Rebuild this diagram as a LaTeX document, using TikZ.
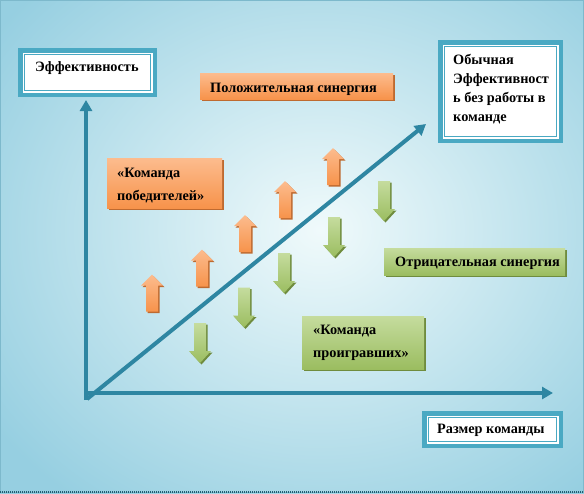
\documentclass[tikz,border=0pt]{standalone}
\usepackage{fontspec}
\setmainfont{Liberation Serif}
\usetikzlibrary{arrows.meta,shadows}
\definecolor{axis}{HTML}{2E86A2}
\definecolor{boxteal}{HTML}{4AA9C3}
\definecolor{bgin}{HTML}{F0FAFB}
\definecolor{bgout}{HTML}{96CFE1}
\definecolor{frame}{HTML}{7DB9CC}
\definecolor{ortop}{HTML}{FCBC8E}
\definecolor{orbot}{HTML}{F7934B}
\definecolor{orshadow}{HTML}{BE6A30}
\definecolor{grtop}{HTML}{C5DC9E}
\definecolor{grbot}{HTML}{9BBD60}
\definecolor{grshadow}{HTML}{6F8C3E}
\tikzset{
  uparr/.pic={
    \fill[orshadow] (-4.5,20) -- (-4.5,-6) -- (-9.5,-6) -- (1.5,-17) -- (12.5,-6) -- (7.5,-6) -- (7.5,20) -- cycle;
    \path[top color=ortop, bottom color=orbot] (-6,18.5) -- (-6,-7.5) -- (-11,-7.5) -- (0,-18.5) -- (11,-7.5) -- (6,-7.5) -- (6,18.5) -- cycle;
  },
  downarr/.pic={
    \fill[grshadow] (-4.5,-18.5) -- (-4.5,9.5) -- (-9.5,9.5) -- (1.5,21.5) -- (12.5,9.5) -- (7.5,9.5) -- (7.5,-18.5) -- cycle;
    \path[top color=grtop, bottom color=grbot] (-6,-20) -- (-6,8) -- (-11,8) -- (0,20) -- (11,8) -- (6,8) -- (6,-20) -- cycle;
  }
}
\begin{document}
\begin{tikzpicture}[x=1pt,y=-1pt,
  txt/.style={font=\fontsize{14.3}{16}\selectfont\bfseries, inner sep=0pt, anchor=base west},
  whitebox/.style={draw=boxteal, line width=4.5pt, fill=white, inner sep=0pt, outer sep=0pt},
  innerline/.style={draw=boxteal, line width=0.9pt},
  orbox/.style={top color=ortop, bottom color=orbot, inner sep=0pt, outer sep=0pt,
    drop shadow={shadow xshift=2pt, shadow yshift=-2pt, fill=orshadow, opacity=1}},
  grbox/.style={top color=grtop, bottom color=grbot, inner sep=0pt, outer sep=0pt,
    drop shadow={shadow xshift=2pt, shadow yshift=-2pt, fill=grshadow, opacity=1}},
  axisline/.style={draw=axis, line width=4pt, -{Triangle[width=12pt,length=11pt]}}
]
\useasboundingbox (0,0) rectangle (584,493);
\begin{scope}
  \clip (0,0) rectangle (584,493);
  \path[inner color=bgin, outer color=bgout] (-80,-110) rectangle (720,570);
\end{scope}
\draw[frame, line width=1pt] (0.5,0.5) rectangle (583.5,492.5);
\draw[axis!70!black, line width=1.5pt, dash pattern=on 1pt off 1pt] (0,492) -- (584,492);

% axes
\coordinate (o) at (86,400);
\coordinate (ytip) at (86,100);
\coordinate (xs) at (84,393);
\coordinate (xtip) at (553,393);
\coordinate (ds) at (87,399);
\coordinate (dtip) at (426,124);
\draw[axisline] (o) -- (ytip);
\draw[axisline] (xs) -- (xtip);
\draw[axisline] (ds) -- (dtip);

% white boxes
\node[whitebox, minimum width=134.5pt, minimum height=44.5pt] (effbox) at (87.5,72.5) {};
\draw[innerline] ([shift={(4.3,4.3)}]effbox.north west) rectangle ([shift={(-4.3,-4.3)}]effbox.south east);
\node[txt] (efft) at (35,71) {Эффективность};

\node[whitebox, minimum width=120.5pt, minimum height=98.5pt] (normbox) at (500.5,91.5) {};
\draw[innerline] ([shift={(4.3,4.3)}]normbox.north west) rectangle ([shift={(-4.3,-4.3)}]normbox.south east);
\node[txt] (n1) at (453,64) {Обычная};
\node[txt] (n2) at (453,83.5) {Эффективност};
\node[txt] (n3) at (453,102.5) {ь без работы в};
\node[txt] (n4) at (453,121) {команде};

\node[whitebox, minimum width=136.5pt, minimum height=32.5pt] (sizebox) at (492.5,429.5) {};
\draw[innerline] ([shift={(4.3,4.3)}]sizebox.north west) rectangle ([shift={(-4.3,-4.3)}]sizebox.south east);
\node[txt] (sizet) at (437,433) {Размер команды};

% coloured boxes
\node[orbox, minimum width=193pt, minimum height=26pt] (posbox) at (296.5,86) {};
\node[txt] (post) at (210,92) {Положительная синергия};

\node[orbox, minimum width=115pt, minimum height=50pt] (winbox) at (164.5,183) {};
\node[txt] (w1) at (117,177) {«Команда};
\node[txt] (w2) at (117,200) {победителей»};

\node[grbox, minimum width=181pt, minimum height=27pt] (negbox) at (474.5,261.5) {};
\node[txt] (negt) at (395,266) {Отрицательная синергия};

\node[grbox, minimum width=122pt, minimum height=53pt] (losebox) at (363,342.5) {};
\node[txt] (l1) at (313,334) {«Команда};
\node[txt] (l2) at (313,357) {проигравших»};

% block arrows
\pic at (152,293) {uparr};
\pic at (202,268) {uparr};
\pic at (245,233.5) {uparr};
\pic at (285,199.5) {uparr};
\pic at (333,166.5) {uparr};

\pic at (200,343) {downarr};
\pic at (244,307.5) {downarr};
\pic at (284,273) {downarr};
\pic at (334,237) {downarr};
\pic at (384,201) {downarr};
\end{tikzpicture}
\end{document}
